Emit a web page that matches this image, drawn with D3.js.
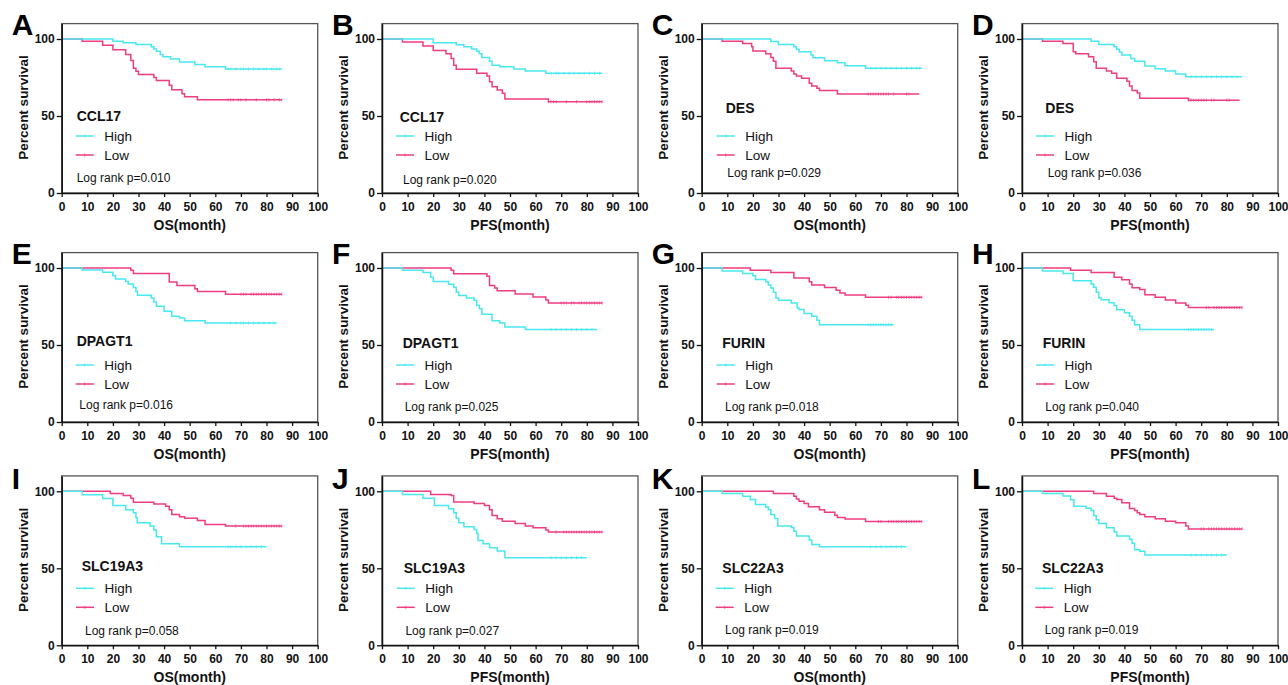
<!DOCTYPE html>
<html><head><meta charset="utf-8">
<script src="https://cdn.jsdelivr.net/npm/d3@7"></script>
<style>body{margin:0;background:#fff;} svg{display:block;font-family:Arial,"Liberation Sans",sans-serif;}</style>
</head><body><svg id="chart" width="1288" height="685"></svg>
<script>
// ---------- DATA ----------
const panelLetters = ["A","B","C","D","E","F","G","H","I","J","K","L"];
const genes = ["CCL17","CCL17","DES","DES","DPAGT1","DPAGT1","FURIN","FURIN","SLC19A3","SLC19A3","SLC22A3","SLC22A3"];
const xTitles = ["OS(month)","PFS(month)","OS(month)","PFS(month)","OS(month)","PFS(month)","OS(month)","PFS(month)","OS(month)","PFS(month)","OS(month)","PFS(month)"];
const pValues = ["0.010","0.020","0.029","0.036","0.016","0.025","0.018","0.040","0.058","0.027","0.019","0.019"];
const seriesNames = ["High","Low"];
const xTicks = [0,10,20,30,40,50,60,70,80,90,100];
const yTicks = [0,50,100];

// step curves: [month, percent survival after this time]; last entry = end of follow-up
const highCurves = [
 [[0,100],[20,98.5],[24,97.5],[29,96.5],[35,95],[36,93.5],[37,92],[38.5,90],[39.5,88.5],[42.5,87],[46,85],[52,83.5],[56,82],[64,80.5],[86,80.5]],
 [[0,100],[20,97.5],[29,96.3],[32,95],[35,93.5],[37,92],[38,90.5],[39,88],[42,85.5],[43,83],[46,82],[51.5,80.5],[56,79.2],[64,77.7],[86,77.7]],
 [[0,100],[27,98.3],[30,96.5],[36,95],[37,93.3],[38,91.8],[42.7,89.6],[43.5,87.9],[48,85.9],[53,84.6],[56,82.7],[64,81],[86,81]],
 [[0,100],[27,98.5],[30,96.5],[36,95],[37,93.3],[38,91.5],[39,89.6],[42.5,87.4],[44,85.5],[48,82.5],[52,80.7],[56,79.2],[60,77.3],[64,75.5],[86,75.5]],
 [[0,100],[8,98.7],[16,97.2],[20,95],[21,92.9],[25,91.3],[26,89.6],[28,87.4],[29,84.8],[29.6,82.3],[35,80.5],[36,77.9],[37,75.1],[40,71.9],[43,68.6],[46,67.5],[48,65.8],[56,64.3],[84,64.3]],
 [[0,100],[8,98.5],[16,97],[19,94],[20,91.3],[26,89.5],[28,87.5],[29,84.2],[30,82.2],[33,80.5],[36,79],[37,75.8],[38,73.5],[39,70],[43,65.8],[46,64.3],[48,61.7],[56,60],[84,60]],
 [[0,100],[8,98],[16,96.5],[20,95],[21,92.5],[25,91],[26,89],[27,87],[28,84.2],[29,80.5],[30,79],[35,77.3],[37.3,74],[38,73],[40,70.4],[43,68.6],[45,66],[46,63.2],[75,63.2]],
 [[0,100],[8,98],[16,96.5],[20,91.8],[27,89.6],[28,87.5],[29,84.2],[30,80.5],[31,79.4],[34,77.5],[36,75.5],[37,72.9],[40,71],[42,68.6],[43,66],[44,63.2],[46,60],[75,60]],
 [[0,100],[8,97.8],[16,95.3],[20,90.7],[25,88.1],[28,86],[29,82.8],[29.5,79.5],[34.5,77.4],[36,74.8],[37,70.5],[39,66],[46,64],[80,64]],
 [[0,100],[8,98],[16,95.5],[20.5,90.7],[26,88.6],[28,86],[29,82.5],[30,79.5],[32,76.9],[36,75.2],[37,72.6],[37.5,68.1],[39.5,66],[42,63.4],[45,61.2],[48,56.9],[80,56.9]],
 [[0,100],[8,98.5],[16,96.8],[19,94.6],[21,91.4],[25,89.8],[26,88.1],[27,84.9],[28.5,82.3],[29.7,77.4],[35,76.5],[36,74.1],[37,70.9],[42,68.3],[43,65.5],[46,64],[80,64]],
 [[0,100],[8,98.5],[16,97],[19,94.5],[20.3,90.3],[25,89],[27,87.5],[28,84.3],[29,81.5],[30,79.1],[33,76.3],[36,73.5],[37,70.9],[42,68.8],[43,66.2],[44,62],[46,61],[48,58.6],[80,58.6]]
];
const lowCurves = [
 [[0,100],[8,98.5],[16,96],[20,93],[25,90],[27,86],[28,81],[29,79],[30,77],[36,75],[37,73],[42,70],[43,67],[47,64.5],[48,62.5],[53,60.5],[86,60.5]],
 [[0,100],[8,98],[16,95.5],[20,92.6],[25,90.5],[27,87.4],[28,83],[29,80.3],[37,77.7],[41,76],[42,72.3],[43,69],[45,66.9],[47,64.7],[48,61],[65,59.3],[86,59.3]],
 [[0,100],[8,98.5],[16,97],[19.5,95],[20,92.2],[25,90.5],[27,88],[28,85.5],[29,81],[35,79.2],[36,77.3],[37,76],[39,74.5],[42,71.2],[43,69.5],[45,68],[46,66.5],[53,64.3],[85,64.3]],
 [[0,100],[8,98.5],[16,97],[20,91.8],[21,90.5],[26,88.5],[28,85.3],[29,81],[33,79.2],[35,77.7],[37,74.5],[41,72.5],[42,69.5],[43,66.5],[45,65],[46,61.5],[65,60.3],[85,60.3]],
 [[0,100],[27,98.5],[28,96.5],[42,90.9],[45,88.7],[52,86.6],[53,84.8],[64,83],[86,83]],
 [[0,100],[27,98.5],[28,96.2],[41,94.6],[42,88.7],[44,87],[45,85.2],[52,83.1],[59,81.2],[64,79.3],[65,77.3],[86,77.3]],
 [[0,100],[19,98.5],[27,97],[36,93.5],[42,91],[43,89],[48,87.4],[52.5,85.5],[54,83.8],[56,82.5],[64,81],[86,81]],
 [[0,100],[19,98.5],[27,97],[36,94],[39,92.4],[42,89.6],[43,87.2],[46,86],[48,82.7],[52,81],[56,79.3],[60,77.3],[64,75.8],[65,74.3],[86,74.3]],
 [[0,100],[19,98.5],[24,97.2],[27,95.5],[28,92.9],[36,91.8],[40.6,90.3],[42,88.1],[43,84.9],[46,83.5],[48,82.5],[53,81],[56,78.4],[64,77.4],[86,77.4]],
 [[0,100],[19,98],[27,97.2],[28,93],[36,92],[40,90.7],[42,88.1],[43,84.3],[45,82.1],[47,80.6],[52,79.1],[56,77.4],[59,76.3],[64,74.8],[65,73.5],[86,73.5]],
 [[0,100],[28,98.5],[36,96.8],[37,95],[38,93.5],[40,92],[41.7,89.9],[46,88],[48,86.4],[52,84.5],[53,83],[56,82],[64,80.4],[86,80.4]],
 [[0,100],[28,98.5],[33,96.8],[36,95.5],[37,94.6],[39,92.5],[42,88.8],[44,87.5],[45,86],[46,84.9],[48,83.4],[52,82.1],[56,80.6],[60,79.5],[64,77.5],[65,75.6],[86,75.6]]
];
// censoring times (months)
const highCensor = [
 [65,66,68,70,71,73,75,77,79,80,82,84,85],
 [66,68,69,71,73,75,77,79,81,83,85],
 [66,68,70,72,74,76,78,80,82,84,85],
 [66,68,70,72,74,76,78,80,82,84],
 [66,68,70,71,73,75,77,79,81,83],
 [66,68,70,72,74,76,78,80,82],
 [65,66,67,68,69,70,71,72,73,74],
 [65,66,67,68,69,70,71,72,73,74],
 [65,66,68,70,72,74,76,78],
 [66,68,70,72,74,76,78],
 [66,68,70,72,74,76,78],
 [66,68,70,72,74,76,78]
];
const lowCensor = [
 [65,66,67,69,70,72,76,80,81,83,85,86],
 [65,66,67,68,72,76,80,81,82,83,84,85,86],
 [65,66,67,68,69,70,71,72,73,75,80,81],
 [65,66,67,68,69,70,71,72,74,75,80,81],
 [70,71,72,74,75,76,77,78,79,80,81,82,83,84,85,86],
 [70,71,72,74,75,77,78,79,80,81,82,83,84,85,86],
 [73,74,76,77,78,79,80,81,82,83,84,85,86],
 [72,73,75,76,77,78,79,80,81,82,83,84,85,86],
 [68,71,72,73,74,75,76,77,78,79,80,81,82,83,84,85,86],
 [68,71,72,73,74,75,76,77,78,79,80,81,82,83,84,85,86],
 [69,70,73,74,75,76,77,78,79,80,81,82,83,84,85,86],
 [70,71,73,74,75,76,77,78,79,80,81,82,83,84,85,86]
];

// ---------- LAYOUT / STYLE ----------
const colors = {High:"#48e8f0", Low:"#ee3d80"};
const colLeft = [61.7, 382, 701.7, 1022];
const rowZero = [193, 422, 645.3];
const plotW = 256, px100 = 154, yMax = 110;
const legGeneX = [15,17.7,24,23.3,15,20.7,20.6,20.7,20,21.7,20.6,20];
const legGeneY = [76.7,77.7,69.3,69.3,73.3,75,75,75,75,76.7,76.7,76.7];
const legLineX = [14,14,15,14,14,14,15,14,14.3,14.7,14,13.3];
const legLogX  = [15,21,25.6,25.7,17.6,22.7,23.3,23.3,23.3,23.4,23.3,22.7];
const legLogY  = [138.3,141,133.3,133.3,136.7,138.3,138.3,138.3,139,139.3,138.3,138.3];

const svg = d3.select("#chart");

function survAt(curve, t){
  let s = curve[0][1];
  for (const p of curve){ if (p[0] <= t) s = p[1]; }
  return s;
}

panelLetters.forEach((letter, i) => {
  const c = i % 4, r = Math.floor(i / 4);
  const L = colLeft[c], Y0 = rowZero[r];
  const x = d3.scaleLinear().domain([0,100]).range([L, L + plotW]);
  const y = d3.scaleLinear().domain([0,yMax]).range([Y0, Y0 - px100 * yMax / 100]);
  const g = svg.append("g");

  // frame
  g.append("rect").attr("x", x(0)).attr("y", y(yMax)).attr("width", x(100) - x(0)).attr("height", y(0) - y(yMax))
    .attr("fill", "none").attr("stroke", "#555").attr("stroke-width", 1.3);

  const line = d3.line().x(d => x(d[0])).y(d => y(d[1])).curve(d3.curveStepAfter);
  const series = [["Low", lowCurves[i], lowCensor[i]], ["High", highCurves[i], highCensor[i]]];
  series.forEach(([name, curve, cens]) => {
    g.append("path").datum(curve).attr("d", line).attr("fill", "none")
      .attr("stroke", colors[name]).attr("stroke-width", 1.5);
    g.selectAll(null).data(cens).join("line")
      .attr("x1", d => x(d)).attr("x2", d => x(d))
      .attr("y1", d => y(survAt(curve, d)) - 1.6).attr("y2", d => y(survAt(curve, d)) + 1.6)
      .attr("stroke", colors[name]).attr("stroke-width", 0.8).attr("opacity", 0.85);
  });

  // axes
  const ya = g.append("g").attr("transform", `translate(${x(0)},0)`)
    .call(d3.axisLeft(y).tickValues(yTicks).tickSize(5).tickPadding(2).tickSizeOuter(0));
  const xa = g.append("g").attr("transform", `translate(0,${y(0)})`)
    .call(d3.axisBottom(x).tickValues(xTicks).tickSize(4).tickPadding(5).tickSizeOuter(0));
  [ya, xa].forEach(a => {
    a.select(".domain").attr("stroke", "#111").attr("stroke-width", 1.5);
    a.selectAll(".tick line").attr("stroke", "#111").attr("stroke-width", 1.3);
    a.selectAll("text").attr("font-size", 12).attr("font-weight", "bold").attr("fill", "#111")
      .attr("font-family", "Arial, 'Liberation Sans', sans-serif");
  });

  // axis titles
  g.append("text").attr("transform", `translate(${L - 38.7},${Y0 - 85.5}) rotate(-90)`)
    .attr("text-anchor", "middle").attr("dy", "0.35em").attr("font-size", 13.5).attr("font-weight", "bold")
    .attr("fill", "#111").text("Percent survival");
  g.append("text").attr("x", L + plotW / 2).attr("y", Y0 + 37).attr("text-anchor", "middle")
    .attr("font-size", 14).attr("font-weight", "bold").attr("fill", "#111").text(xTitles[i]);

  // panel letter
  g.append("text").attr("x", L - 50).attr("y", Y0 - (r === 2 ? 156.5 : 158)).attr("font-size", 30)
    .attr("font-weight", "bold").attr("fill", "#000").text(letter);

  // legend
  const y100 = y(100);
  g.append("text").attr("x", L + legGeneX[i]).attr("y", y100 + legGeneY[i]).attr("dy", "0.36em")
    .attr("font-size", 14).attr("font-weight", "bold").attr("fill", "#111").text(genes[i]);
  seriesNames.forEach((name, k) => {
    const ly = y100 + 97 + k * 19;
    const lx = L + legLineX[i];
    g.append("line").attr("x1", lx).attr("x2", lx + 18).attr("y1", ly).attr("y2", ly)
      .attr("stroke", colors[name]).attr("stroke-width", 1.5);
    g.append("line").attr("x1", lx + 9).attr("x2", lx + 9).attr("y1", ly - 1.5).attr("y2", ly + 1.5)
      .attr("stroke", colors[name]).attr("stroke-width", 0.8);
    g.append("text").attr("x", lx + 28.5).attr("y", ly).attr("dy", "0.36em")
      .attr("font-size", 13.5).attr("fill", "#111").text(name);
  });
  g.append("text").attr("x", L + legLogX[i]).attr("y", y100 + legLogY[i]).attr("dy", "0.35em")
    .attr("font-size", 12).attr("fill", "#111").text("Log rank p=" + pValues[i]);
});
</script></body></html>
